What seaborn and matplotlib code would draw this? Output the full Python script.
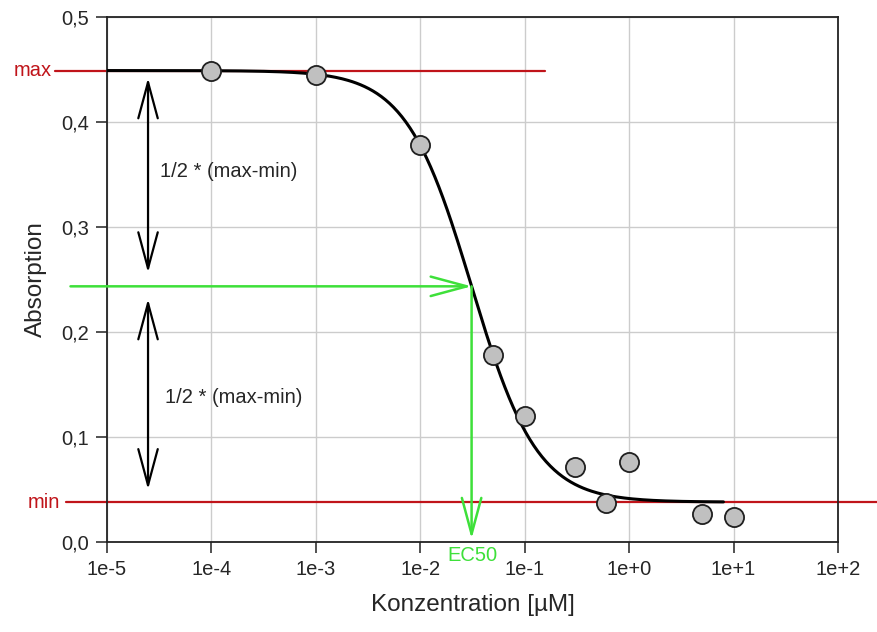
import numpy as np
import pandas as pd
import seaborn as sns
import matplotlib.pyplot as plt
from matplotlib.ticker import FixedLocator, NullLocator

# measured points
konz = [1e-4, 1e-3, 1e-2, 5e-2, 1e-1, 3e-1, 6e-1, 1e0, 5e0, 1e1]
absorption = [0.449, 0.445, 0.378, 0.178, 0.120, 0.071, 0.037, 0.076, 0.027, 0.024]

# fitted 4-parameter logistic
fit_min = 0.038
fit_max = 0.449
fit_ec50 = 0.031
fit_hill = 1.38
fit_range = [1e-5, 8e0]

x_ticks = [1e-5, 1e-4, 1e-3, 1e-2, 1e-1, 1e0, 1e1, 1e2]
x_ticklabels = ["1e-5", "1e-4", "1e-3", "1e-2", "1e-1", "1e+0", "1e+1", "1e+2"]
y_ticks = [0.0, 0.1, 0.2, 0.3, 0.4, 0.5]
y_ticklabels = ["0,0", "0,1", "0,2", "0,3", "0,4", "0,5"]

half_x = 2.47e-5  # x of the black double arrows

sns.set_style("whitegrid")
plt.rcParams['font.family'] = ['Liberation Sans', 'DejaVu Sans']

df = pd.DataFrame({"konz": konz, "absorption": absorption})
xs = np.logspace(np.log10(fit_range[0]), np.log10(fit_range[1]), 300)
fit = pd.DataFrame({"konz": xs,
                    "absorption": fit_min + (fit_max - fit_min) / (1 + (xs / fit_ec50) ** fit_hill)})
half = (fit_max + fit_min) / 2

fig = plt.figure(figsize=(8.78, 6.32), dpi=100)
ax = fig.add_axes([0.1219, 0.1424, 0.8325, 0.8307])

red = "#c0141a"
green = "#3ee03a"
fs = 14.5

ytr = ax.get_yaxis_transform()
ax.plot([-0.071, 0.599], [fit_max, fit_max], color=red, lw=1.6, transform=ytr, clip_on=False, zorder=2)
ax.plot([-0.056, 1.06], [fit_min, fit_min], color=red, lw=1.6, transform=ytr, clip_on=False, zorder=2)
ax.text(-0.075, fit_max, "max", color=red, fontsize=fs, ha="right", va="center", transform=ytr)
ax.text(-0.064, fit_min, "min", color=red, fontsize=fs, ha="right", va="center", transform=ytr)

sns.lineplot(data=fit, x="konz", y="absorption", color="black", lw=2.2, ax=ax, zorder=3)
sns.scatterplot(data=df, x="konz", y="absorption", s=190, color="#c0c0c0",
                edgecolor="#202020", linewidth=1.3, ax=ax, zorder=4)

# EC50 arrows
ax.annotate("", xy=(fit_ec50, half), xytext=(-0.05, half),
            xycoords="data", textcoords=ytr,
            arrowprops=dict(arrowstyle="->,head_length=1.3,head_width=0.35",
                            color=green, lw=1.8, mutation_scale=20, shrinkA=0, shrinkB=0),
            annotation_clip=False)
ax.annotate("", xy=(fit_ec50, 0.003), xytext=(fit_ec50, half),
            arrowprops=dict(arrowstyle="->,head_length=1.3,head_width=0.35",
                            color=green, lw=1.8, mutation_scale=20, shrinkA=0, shrinkB=0))
ax.annotate("EC50", xy=(fit_ec50 * 1.02, 0), xytext=(0, -3), textcoords="offset points",
            color=green, fontsize=fs, ha="center", va="top", annotation_clip=False)

# half-range arrows
ax.annotate("", xy=(half_x, fit_max - 0.007), xytext=(half_x, half + 0.013),
            arrowprops=dict(arrowstyle="<->,head_length=1.3,head_width=0.35",
                            color="black", lw=1.6, mutation_scale=20, shrinkA=0, shrinkB=0))
ax.annotate("", xy=(half_x, half - 0.012), xytext=(half_x, fit_min + 0.012),
            arrowprops=dict(arrowstyle="<->,head_length=1.3,head_width=0.35",
                            color="black", lw=1.6, mutation_scale=20, shrinkA=0, shrinkB=0))
ax.text(3.2e-5, 0.353, "1/2 * (max-min)", fontsize=fs, va="center")
ax.text(3.6e-5, 0.138, "1/2 * (max-min)", fontsize=fs, va="center")

ax.set_xscale("log")
ax.set_xlim(1e-5, 1e2)
ax.set_ylim(0, 0.5)
ax.xaxis.set_major_locator(FixedLocator(x_ticks))
ax.xaxis.set_minor_locator(NullLocator())
ax.set_xticklabels(x_ticklabels)
ax.set_yticks(y_ticks)
ax.set_yticklabels(y_ticklabels)
ax.tick_params(axis="both", which="major", direction="out", length=8, width=1.2,
               color="#333333", labelsize=fs, pad=5, bottom=True, left=True)
ax.grid(True, color="#cccccc", lw=1)
for s in ax.spines.values():
    s.set_color("#222222")
    s.set_linewidth(1.3)

ax.set_xlabel("Konzentration [µM]", fontsize=17.5, labelpad=11)
ax.set_ylabel("Absorption", fontsize=17.5, labelpad=10)

fig.savefig("out.png", dpi=100)
